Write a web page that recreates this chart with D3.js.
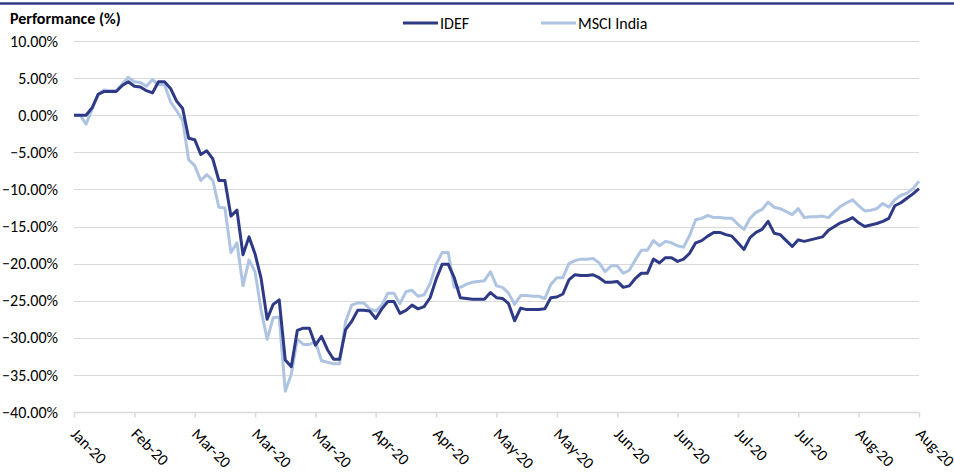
<!DOCTYPE html>
<html>
<head>
<meta charset="utf-8">
<script src="https://cdn.jsdelivr.net/npm/d3@7"></script>
<style>
    body { margin: 0; background: #fff; }
    text { font-family: Carlito, Lato, "Open Sans", sans-serif; fill: #000; }
</style>
</head>
<body>
<div id="chart"></div>
<script>
// tick labels shown under the axis, one every 10 points
var tickLabels = ["Jan-20", "Feb-20", "Mar-20", "Mar-20", "Mar-20", "Apr-20", "Apr-20", "May-20",
    "May-20", "Jun-20", "Jun-20", "Jul-20", "Jul-20", "Aug-20", "Aug-20"];
var yTicks = [10, 5, 0, -5, -10, -15, -20, -25, -30, -35, -40];
var seriesNames = ["IDEF", "MSCI India"];

var idef = [0.0, 0.0, 0.0, 1.0, 2.8, 3.2, 3.2, 3.2, 4.0, 4.5,
    3.9, 3.8, 3.3, 3.0, 4.5, 4.5, 3.6, 1.9, 0.9, -3.1,
    -3.3, -5.3, -4.8, -5.9, -8.8, -8.8, -13.6, -12.8, -18.8, -16.4,
    -18.7, -22.0, -27.5, -25.5, -24.9, -33.0, -33.9, -29.0, -28.7, -28.7,
    -31.0, -29.8, -31.6, -32.9, -32.9, -28.9, -27.8, -26.3, -26.3, -26.4,
    -27.4, -26.1, -25.1, -25.1, -26.7, -26.3, -25.6, -26.1, -25.8, -24.6,
    -22.1, -20.1, -20.1, -21.9, -24.6, -24.7, -24.8, -24.8, -24.8, -23.9,
    -24.6, -24.7, -25.4, -27.7, -26.0, -26.2, -26.2, -26.2, -26.1, -24.6,
    -24.5, -24.1, -22.2, -21.5, -21.6, -21.6, -21.5, -21.9, -22.5, -22.5,
    -22.4, -23.2, -23.0, -22.0, -21.3, -21.3, -19.4, -19.9, -19.2, -19.2,
    -19.7, -19.4, -18.6, -17.2, -16.9, -16.3, -15.8, -15.8, -16.1, -16.3,
    -17.2, -18.1, -16.5, -15.8, -15.4, -14.3, -15.9, -16.1, -16.9, -17.7,
    -16.8, -17.0, -16.8, -16.6, -16.4, -15.5, -15.0, -14.5, -14.2, -13.8,
    -14.5, -15.0, -14.8, -14.6, -14.3, -13.9, -12.2, -11.8, -11.2, -10.6,
    -9.9];

var msci = [0.0, 0.0, -1.2, 0.8, 2.8, 3.4, 3.3, 3.3, 4.2, 5.1,
    4.5, 4.4, 3.9, 4.8, 4.1, 4.1, 1.8, 0.6, -0.7, -6.0,
    -6.8, -8.8, -8.0, -8.8, -12.4, -12.5, -18.5, -17.2, -23.0, -19.5,
    -21.1, -26.3, -30.2, -27.3, -27.2, -37.2, -34.9, -30.2, -30.9, -30.9,
    -30.5, -33.1, -33.3, -33.5, -33.5, -27.8, -25.6, -25.3, -25.3, -26.1,
    -26.4, -25.6, -24.0, -24.0, -25.4, -23.8, -23.6, -24.4, -24.2, -22.7,
    -20.1, -18.5, -18.5, -23.2, -23.2, -22.8, -22.5, -22.4, -22.3, -21.1,
    -23.0, -23.2, -24.0, -25.5, -24.3, -24.3, -24.4, -24.4, -24.7, -22.8,
    -21.9, -21.9, -20.0, -19.6, -19.4, -19.4, -19.3, -19.9, -21.1, -20.3,
    -20.3, -21.3, -20.9, -19.5, -18.2, -18.2, -16.9, -17.6, -17.0, -17.2,
    -17.6, -17.8, -16.2, -14.1, -13.9, -13.5, -13.8, -13.8, -13.9, -13.9,
    -14.7, -15.4, -13.9, -13.1, -12.7, -11.7, -12.4, -12.6, -13.0, -13.4,
    -12.6, -13.8, -13.7, -13.7, -13.6, -13.8, -13.0, -12.3, -11.8, -11.4,
    -12.2, -12.9, -12.8, -12.6, -11.9, -12.4, -11.4, -10.8, -10.5, -9.9,
    -8.9];

var colors = ["#2e3a86", "#aec4e2"];

(function () {
    var width = 954,
        height = 472,
        plotLeft = 74,
        plotRight = 919,
        plotTop = 41,
        plotBottom = 412,
        fontSize = 16;

    var svg = d3.select("#chart").append("svg")
        .attr("width", width)
        .attr("height", height);

    var x = d3.scaleLinear()
        .domain([0, idef.length - 1])
        .range([plotLeft, plotRight]);

    var y = d3.scaleLinear()
        .domain([-40, 10])
        .range([plotBottom, plotTop]);

    // top rule
    svg.append("line")
        .attr("x1", 0).attr("x2", width)
        .attr("y1", 3.5).attr("y2", 3.5)
        .attr("stroke", "#2e3a86")
        .attr("stroke-width", 2.5);

    svg.append("text")
        .attr("x", 10)
        .attr("y", 24)
        .attr("font-size", fontSize)
        .attr("font-weight", "bold")
        .text("Performance (%)");

    // gridlines
    svg.append("g").selectAll("line")
        .data(yTicks)
        .enter().append("line")
        .attr("x1", plotLeft).attr("x2", plotRight)
        .attr("y1", function (d) { return Math.round(y(d)) + 0.5; })
        .attr("y2", function (d) { return Math.round(y(d)) + 0.5; })
        .attr("stroke", "#d9d9d9")
        .attr("stroke-width", function (d) { return d === -40 ? 1.5 : 1; });

    var yAxis = svg.append("g")
        .attr("transform", "translate(" + (plotLeft - 16) + ",0)")
        .call(d3.axisLeft(y).tickValues(yTicks).tickSize(0).tickPadding(0)
            .tickFormat(function (d) { return d3.format(".2f")(d) + "%"; }));
    yAxis.select(".domain").remove();
    yAxis.selectAll("text")
        .attr("font-size", fontSize)
        .attr("fill", "#000")
        .style("font-family", "Carlito, Lato, 'Open Sans', sans-serif");

    var tickIdx = tickLabels.map(function (d, i) { return i * 10; });

    var xAxis = svg.append("g")
        .attr("transform", "translate(0," + (Math.round(plotBottom) + 0.5) + ")")
        .call(d3.axisBottom(x).tickValues(tickIdx).tickSize(5).tickFormat(""));
    xAxis.select(".domain").remove();
    xAxis.selectAll("line").attr("stroke", "#d9d9d9").attr("stroke-width", 1.5);

    svg.append("g").selectAll("text")
        .data(tickIdx)
        .enter().append("text")
        .attr("transform", function (d) {
            return "translate(" + (x(d) - 4) + ",435) rotate(45)";
        })
        .attr("font-size", fontSize)
        .text(function (d, i) { return tickLabels[i]; });

    var line = d3.line()
        .x(function (d, i) { return x(i); })
        .y(function (d) { return y(d); });

    [msci, idef].forEach(function (s, k) {
        svg.append("path")
            .datum(s)
            .attr("fill", "none")
            .attr("stroke", k === 0 ? colors[1] : colors[0])
            .attr("stroke-width", 3)
            .attr("stroke-linejoin", "round")
            .attr("d", line);
    });

    // legend
    var legend = svg.append("g").selectAll("g")
        .data(seriesNames)
        .enter().append("g")
        .attr("transform", function (d, i) { return "translate(" + (403 + i * 138) + ",23)"; });

    legend.append("line")
        .attr("x1", 0).attr("x2", 35)
        .attr("stroke", function (d, i) { return colors[i]; })
        .attr("stroke-width", 3);

    legend.append("text")
        .attr("x", 37)
        .attr("y", 5.5)
        .attr("font-size", fontSize)
        .text(function (d) { return d; });
})();
</script>
</body>
</html>
